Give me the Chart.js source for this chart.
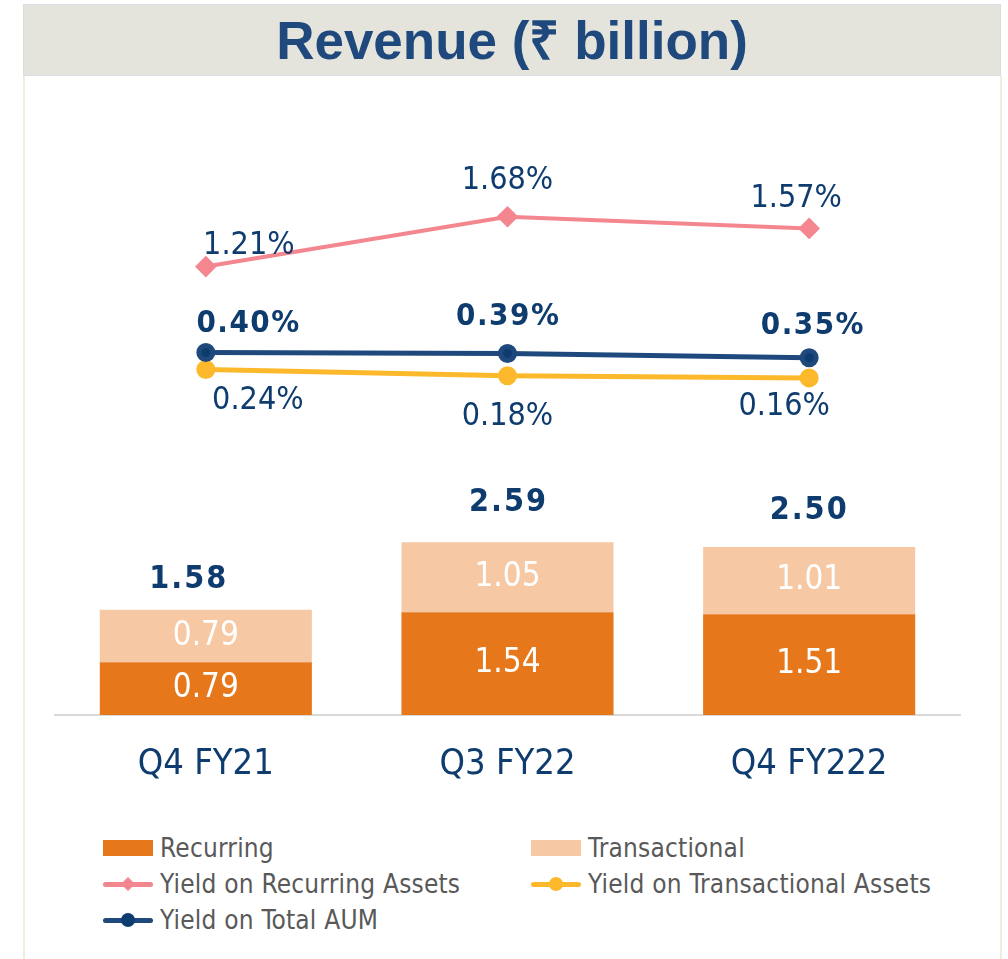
<!DOCTYPE html>
<html>
<head>
<meta charset="utf-8">
<script src="https://cdn.jsdelivr.net/npm/chart.js@4.4.0/dist/chart.umd.min.js"></script>
<style>
  body { margin: 0; background: #fff; width: 1008px; height: 959px; position: relative; overflow: hidden;
         font-family: "DejaVu Sans Condensed", "DejaVu Sans", sans-serif; }
  #head { position: absolute; left: 23px; top: 4px; width: 976px; height: 70px; background: #e5e4dc;
          border: 1px solid #dcdce0; text-align: center; }
  #head h1 { margin: 0; font: bold 53px "Liberation Sans", Arial, sans-serif; color: #1f497d; line-height: 72px; }
  #panel { position: absolute; left: 23px; top: 76px; width: 975px; height: 900px;
           border-left: 2px solid #efede2; border-right: 2px solid #efede2; }
  #wrap { position: absolute; left: 24px; top: 76px; width: 976px; height: 730px; }
  #legend { position: absolute; left: 0; top: 0; }
  .item { position: absolute; display: flex; align-items: center; height: 30px; font-size: 26px; letter-spacing: 0.2px;
          color: #595959; white-space: nowrap; }
  .sw { position: relative; width: 50px; height: 30px; margin-right: 7px; }
</style>
</head>
<body>
<div id="head"><h1>Revenue (₹ billion)</h1></div>
<div id="panel"></div>
<div id="wrap"><canvas id="revChart" width="976" height="730"></canvas></div>
<div id="legend"></div>
<script>
const quarters = ['Q4 FY21', 'Q3 FY22', 'Q4 FY222'];
const recurring = [0.79, 1.54, 1.51];
const transactional = [0.79, 1.05, 1.01];
const revenueTotal = [1.58, 2.59, 2.50];
const yieldRecurring = [1.21, 1.68, 1.57];
const yieldTransactional = [0.24, 0.18, 0.16];
const yieldTotalAum = [0.40, 0.39, 0.35];

const NAVY = '#0f3c6e';
const FONT = '"DejaVu Sans Condensed", "DejaVu Sans", sans-serif';

// draws text centred on x, with optional letter spacing
function label(ctx, text, x, y, spacing) {
  ctx.letterSpacing = (spacing || 0) + 'px';
  ctx.fillText(text, x + (spacing || 0) / 2, y);
  ctx.letterSpacing = '0px';
}

// writes the value labels next to bars and points
const valueLabels = {
  id: 'valueLabels',
  afterDatasetsDraw(chart) {
    const ctx = chart.ctx;
    ctx.save();
    ctx.textAlign = 'center';
    ctx.textBaseline = 'middle';
    chart.data.datasets.forEach((ds, i) => {
      const lab = ds.valueLabel;
      if (!lab) return;
      chart.getDatasetMeta(i).data.forEach((el, j) => {
        const off = lab.offsets ? lab.offsets[j] : [0, 0];
        const y = lab.mid ? (el.y + el.base) / 2 : el.y;
        ctx.font = lab.font;
        ctx.fillStyle = lab.color;
        label(ctx, lab.format(ds.data[j]), el.x + off[0], y + off[1], lab.spacing);
      });
    });
    // stack totals above the top segment
    const tot = chart.options.plugins.valueLabels;
    const top = chart.getDatasetMeta(tot.topDataset).data;
    ctx.font = 'bold 32px ' + FONT;
    ctx.fillStyle = NAVY;
    tot.values.forEach((v, j) => {
      label(ctx, v.toFixed(2), top[j].x + tot.offsets[j][0], top[j].y + tot.offsets[j][1], 2);
    });
    ctx.restore();
  }
};

const pct = v => v.toFixed(2) + '%';
const num = v => v.toFixed(2);

const chart = new Chart(document.getElementById('revChart'), {
  type: 'bar',
  data: {
    labels: quarters,
    datasets: [
      { label: 'Recurring', data: recurring, backgroundColor: '#e6781b', yAxisID: 'y', order: 5,
        barPercentage: 0.703, categoryPercentage: 1,
        valueLabel: { mid: true, font: '33px ' + FONT, color: '#ffffff', format: num } },
      { label: 'Transactional', data: transactional, backgroundColor: '#f6c9a4', yAxisID: 'y', order: 5,
        barPercentage: 0.703, categoryPercentage: 1,
        valueLabel: { mid: true, font: '33px ' + FONT, color: '#ffffff', format: num } },
      { type: 'line', label: 'Yield on Recurring Assets', data: yieldRecurring, yAxisID: 'y1', order: 1,
        borderColor: '#f4868f', backgroundColor: '#f4868f', borderWidth: 4, pointStyle: 'rectRot', pointRadius: 8,
        valueLabel: { font: '32px ' + FONT, color: NAVY, format: pct, offsets: [[43, -21], [0, -36], [-13, -30]] } },
      { type: 'line', label: 'Yield on Transactional Assets', data: yieldTransactional, yAxisID: 'y1', order: 2,
        borderColor: '#fdb92c', backgroundColor: '#fdb92c', borderWidth: 5, pointStyle: 'circle', pointRadius: 7,
        valueLabel: { font: '32px ' + FONT, color: NAVY, format: pct, offsets: [[52, 31], [0, 41], [-25, 29]] } },
      { type: 'line', label: 'Yield on Total AUM', data: yieldTotalAum, yAxisID: 'y1', order: 1,
        borderColor: '#1f497d', backgroundColor: '#0f3c6e', borderWidth: 5, pointStyle: 'circle', pointRadius: 7,
        valueLabel: { font: 'bold 31px ' + FONT, color: NAVY, format: pct, spacing: 1.5,
                      offsets: [[42, -29], [0, -37], [3, -32]] } }
    ]
  },
  options: {
    responsive: false,
    animation: false,
    devicePixelRatio: 1,
    layout: { padding: { left: 31, right: 40, top: 39, bottom: 0 } },
    plugins: {
      legend: { display: false },
      tooltip: { enabled: false },
      valueLabels: { values: revenueTotal, topDataset: 1, offsets: [[-18, -30], [0, -40], [-1, -36]] }
    },
    scales: {
      x: {
        stacked: true,
        grid: { display: true, drawOnChartArea: false, drawTicks: false },
        border: { color: '#d9d9d9', width: 2 },
        ticks: { color: NAVY, font: { family: FONT, size: 36 }, padding: 28 },
        afterFit: s => { s.height = 91; }
      },
      y: { stacked: true, display: false, min: 0, max: 9 },
      y1: { display: false, min: -3.02, max: 2.64 }
    }
  },
  plugins: [valueLabels]
});

// legend in two columns, built from the datasets
const legend = document.getElementById('legend');
chart.data.datasets.forEach((ds, i) => {
  const item = document.createElement('div');
  item.className = 'item';
  item.style.left = (103 + (i % 2) * 428) + 'px';
  item.style.top = (833 + Math.floor(i / 2) * 36) + 'px';
  const sw = document.createElement('div');
  sw.className = 'sw';
  if (ds.type === 'line') {
    sw.innerHTML = '<div style="position:absolute;left:0;top:13px;width:50px;height:5px;border-radius:3px;background:' + ds.borderColor + '"></div>' +
      (ds.pointStyle === 'rectRot'
        ? '<div style="position:absolute;left:20px;top:10px;width:10px;height:10px;transform:rotate(45deg);background:' + ds.backgroundColor + '"></div>'
        : '<div style="position:absolute;left:18px;top:8px;width:14px;height:14px;border-radius:7px;background:' + ds.backgroundColor + '"></div>');
  } else {
    sw.innerHTML = '<div style="position:absolute;left:0;top:7px;width:50px;height:16px;background:' + ds.backgroundColor + '"></div>';
  }
  item.appendChild(sw);
  item.appendChild(document.createTextNode(ds.label));
  legend.appendChild(item);
});
</script>
</body>
</html>
